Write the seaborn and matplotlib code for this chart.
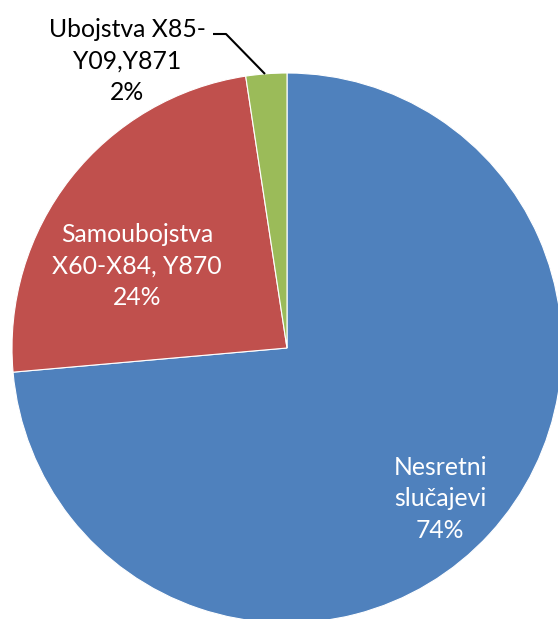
import matplotlib
matplotlib.use("Agg")
import matplotlib.pyplot as plt
import seaborn as sns

categories = ["Nesretni\nslučajevi", "Samoubojstva\nX60-X84, Y870", "Ubojstva X85-\nY09,Y871"]
values = [73.6, 24.0, 2.4]
colors = ["#4F81BD", "#C0504D", "#9BBB59"]

sns.set_theme(style="white")
plt.rcParams['font.family'] = ['Lato', 'DejaVu Sans']

W, H = 558, 619
fig = plt.figure(figsize=(W / 100, H / 100), dpi=100)
ax = fig.add_axes([0, 0, 1, 1])

cx, cy, r = 287, H - 348, 275
ax.pie(values, colors=colors, startangle=90, counterclock=False,
       center=(cx, cy), radius=r, frame=True,
       wedgeprops=dict(edgecolor="white", linewidth=0.8))
ax.set_xlim(0, W)
ax.set_ylim(0, H)
ax.set_aspect("equal")
ax.axis("off")

fs = 17.8
label_pos = [(440, H - 499, "white"), (137, H - 266, "white"), (127, H - 61, "black")]
for cat, v, (x, y, c) in zip(categories, values, label_pos):
    ax.text(x, y, f"{cat}\n{round(v):d}%", ha="center", va="center",
            color=c, fontsize=fs, linespacing=1.46)

# leader line
ax.plot([265, 226, 213], [H - 74, H - 34, H - 34], color="black", lw=1.5,
        solid_capstyle="butt")

fig.savefig("out.png", dpi=100)
